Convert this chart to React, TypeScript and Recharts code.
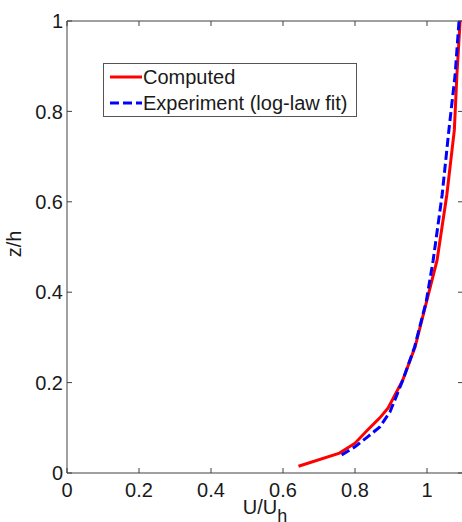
import { LineChart, Line, XAxis, YAxis, Legend } from "recharts";

// profile heights (z/h) and velocities (U/Uh)
const zComputed = [0.015, 0.044, 0.066, 0.095, 0.122, 0.144, 0.206, 0.279, 0.383, 0.471, 0.615, 0.759, 0.88, 1.0];
const uComputed = [0.643, 0.757, 0.8, 0.835, 0.869, 0.892, 0.933, 0.967, 1.0, 1.028, 1.055, 1.076, 1.083, 1.092];

const zExperiment = [0.04, 0.058, 0.08, 0.102, 0.135, 0.17, 0.206, 0.28, 0.38, 0.47, 0.615, 0.76, 0.88, 1.0];
const uExperiment = [0.763, 0.8, 0.835, 0.869, 0.897, 0.915, 0.933, 0.966, 0.998, 1.017, 1.042, 1.061, 1.078, 1.089];

const xTicks = [0, 0.2, 0.4, 0.6, 0.8, 1];
const yTicks = [0, 0.2, 0.4, 0.6, 0.8, 1];

const seriesNames = ["Computed", "Experiment (log-law fit)"];
const seriesColors = ["#ff0000", "#0000ff"];
const seriesDash = [undefined, "9 4"];

const computed = zComputed.map((z, i) => ({ z, u: uComputed[i] }));
const experiment = zExperiment.map((z, i) => ({ z, u: uExperiment[i] }));

const FONT = "'Liberation Sans', Arial, sans-serif";
const AXIS = "#404040";
const TEXT = "#1a1a1a";

// chart layout
const W = 470;
const H = 522;
const M_TOP = 21;
const M_RIGHT = 7;
const Y_W = 67;
const X_H = 49;
const PLOT_TOP = M_TOP;
const PLOT_RIGHT = W - M_RIGHT;
const TICK = 5;
const X_GAP = 10;
const Y_GAP = 4;

// matlab-style box: inward ticks on all four sides, frame drawn with the first tick
function BottomTick(props: any) {
  const { x, y, payload, index } = props;
  const axisY = y - X_GAP;
  return (
    <g>
      {index === 0 && (
        <>
          <line x1={x} y1={PLOT_TOP} x2={PLOT_RIGHT} y2={PLOT_TOP} stroke={AXIS} />
          <line x1={PLOT_RIGHT} y1={PLOT_TOP} x2={PLOT_RIGHT} y2={axisY} stroke={AXIS} />
        </>
      )}
      <line x1={x} y1={axisY} x2={x} y2={axisY - TICK} stroke={AXIS} />
      <line x1={x} y1={PLOT_TOP} x2={x} y2={PLOT_TOP + TICK} stroke={AXIS} />
      <text x={x} y={y} dy="0.72em" textAnchor="middle" fontFamily={FONT} fontSize={20} fill={TEXT}>
        {payload.value}
      </text>
    </g>
  );
}

function LeftTick(props: any) {
  const { x, y, payload } = props;
  const axisX = x + Y_GAP;
  return (
    <g>
      <line x1={axisX} y1={y} x2={axisX + TICK} y2={y} stroke={AXIS} />
      <line x1={PLOT_RIGHT} y1={y} x2={PLOT_RIGHT - TICK} y2={y} stroke={AXIS} />
      <text x={x} y={y} dy="0.36em" textAnchor="end" fontFamily={FONT} fontSize={20} fill={TEXT}>
        {payload.value}
      </text>
    </g>
  );
}

function LegendBox() {
  return (
    <div
      style={{
        border: "1px solid #555",
        background: "#fff",
        width: 252,
        height: 52,
        fontFamily: FONT,
        fontSize: 20,
        color: TEXT,
      }}
    >
      {seriesNames.map((name, i) => (
        <div key={name} style={{ display: "flex", alignItems: "center", height: 26, paddingLeft: 6 }}>
          <svg width={33} height={10} style={{ display: "block" }}>
            <line x1={0} y1={5} x2={32} y2={5} stroke={seriesColors[i]} strokeWidth={3} strokeDasharray={seriesDash[i]} />
          </svg>
          <span style={{ lineHeight: "26px", whiteSpace: "nowrap" }}>{name}</span>
        </div>
      ))}
    </div>
  );
}

export default function App() {
  return (
    <div style={{ position: "absolute", left: 0, top: 0, width: 462, height: 522, overflow: "hidden", background: "#fff" }}>
      <LineChart width={W} height={H} margin={{ top: M_TOP, right: M_RIGHT, bottom: 0, left: 0 }}>
        <XAxis
          xAxisId="bottom"
          type="number"
          dataKey="u"
          domain={[0, 1.1]}
          ticks={xTicks}
          allowDataOverflow
          height={X_H}
          tickSize={0}
          tickMargin={X_GAP}
          tickLine={false}
          stroke={AXIS}
          tick={<BottomTick />}
          label={{
            content: (props: any) => {
              const vb = props.viewBox;
              const cx = vb.x + vb.width / 2;
              return (
                <text x={cx} y={514} textAnchor="middle" fontFamily={FONT} fontSize={20} fill={TEXT}>
                  U/U<tspan fontSize={18} dy={8}>h</tspan>
                </text>
              );
            },
          }}
        />
        <YAxis
          yAxisId="left"
          type="number"
          dataKey="z"
          domain={[0, 1]}
          ticks={yTicks}
          allowDataOverflow
          width={Y_W}
          tickSize={0}
          tickMargin={Y_GAP}
          tickLine={false}
          stroke={AXIS}
          tick={<LeftTick />}
          label={{
            content: (props: any) => {
              const vb = props.viewBox;
              const cy = vb.y + vb.height / 2 - 3;
              return (
                <text
                  x={14}
                  y={cy}
                  transform={`rotate(-90 14 ${cy})`}
                  textAnchor="middle"
                  dominantBaseline="central"
                  fontFamily={FONT}
                  fontSize={20}
                  fill={TEXT}
                >
                  z/h
                </text>
              );
            },
          }}
        />
        <Legend
          layout="horizontal"
          verticalAlign="middle"
          align="center"
          content={() => <LegendBox />}
          wrapperStyle={{ left: 103, top: 63, width: "auto", height: "auto" }}
        />
        <Line
          xAxisId="bottom"
          yAxisId="left"
          data={computed}
          dataKey="z"
          name={seriesNames[0]}
          type="linear"
          stroke={seriesColors[0]}
          strokeWidth={3}
          dot={false}
          isAnimationActive={false}
        />
        <Line
          xAxisId="bottom"
          yAxisId="left"
          data={experiment}
          dataKey="z"
          name={seriesNames[1]}
          type="linear"
          stroke={seriesColors[1]}
          strokeWidth={3}
          strokeDasharray={seriesDash[1]}
          dot={false}
          isAnimationActive={false}
        />
      </LineChart>
    </div>
  );
}
